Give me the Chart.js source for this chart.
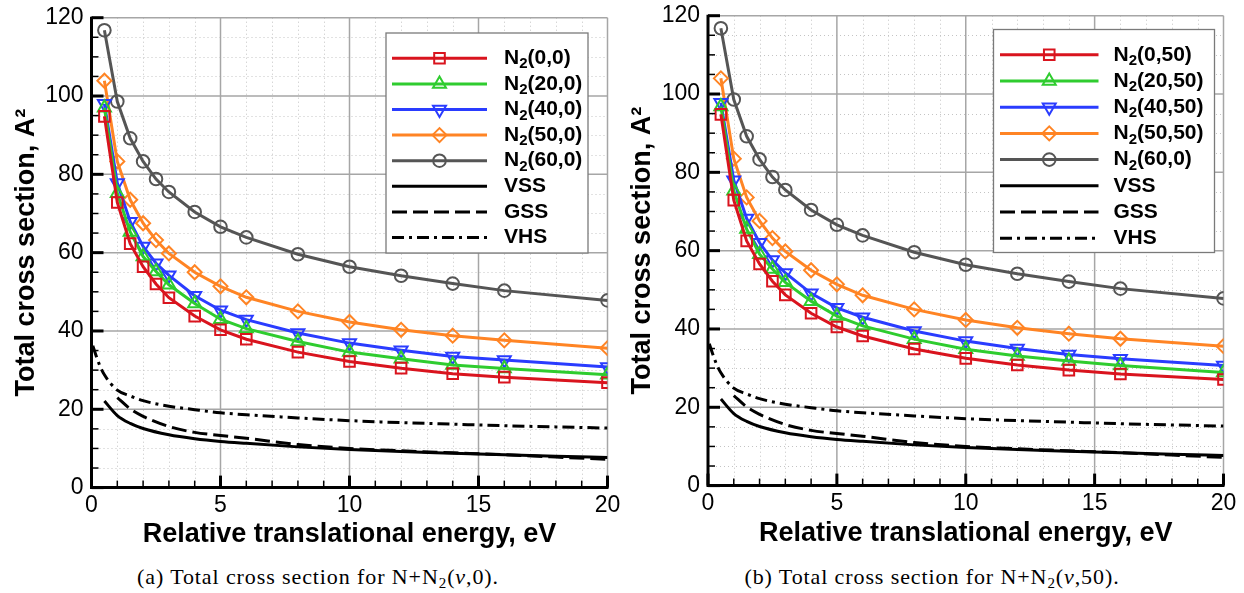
<!DOCTYPE html>
<html>
<head>
<meta charset="utf-8">
<script src="https://cdn.jsdelivr.net/npm/chart.js@4.4.1/dist/chart.umd.min.js"></script>
<style>
  html, body { margin: 0; padding: 0; background: #fff; }
  body { width: 1244px; height: 593px; position: relative; overflow: hidden; }
  canvas { position: absolute; top: 0; background: #fff; }
  #panelA { left: 0; }
  #panelB { left: 620px; }
  .cap {
    position: absolute; top: 564px;
    font-family: 'Liberation Serif', 'Times New Roman', serif;
    font-size: 22px; letter-spacing: 0.9px; white-space: nowrap;
    transform: translateX(-50%); color: #000; line-height: 26px;
  }
  .cap sub { font-size: 15px; vertical-align: -4px; line-height: 0; }
</style>
</head>
<body>
<canvas id="panelA" width="620" height="560"></canvas>
<canvas id="panelB" width="624" height="560"></canvas>
<div class="cap" style="left:318px">(a) Total cross section for N+N<sub>2</sub>(<i>v</i>,0).</div>
<div class="cap" style="left:932px">(b) Total cross section for N+N<sub>2</sub>(<i>v</i>,50).</div>

<script>
// Relative translational energy grid of the computed points, eV
const energy = [0.5, 1, 1.5, 2, 2.5, 3, 4, 5, 6, 8, 10, 12, 14, 16, 20];

// Total cross sections, A^2, for N + N2(v, j=0)
const n2_0_0  = [94.8, 72.8, 62.3, 56.4, 52.0, 48.5, 43.8, 40.3, 37.9, 34.6, 32.2, 30.5, 29.1, 28.2, 26.8];
const n2_20_0 = [97.0, 75.2, 65.3, 59.0, 55.2, 51.8, 47.0, 43.0, 40.6, 37.3, 34.6, 32.9, 31.3, 30.4, 28.8];
const n2_40_0 = [98.0, 77.8, 67.9, 61.6, 57.3, 54.2, 49.0, 45.3, 42.9, 39.5, 36.9, 35.1, 33.5, 32.6, 30.8];
const n2_50_0 = [103.9, 83.3, 73.5, 67.5, 63.2, 59.8, 55.0, 51.4, 48.6, 45.0, 42.3, 40.3, 38.8, 37.6, 35.6];
const n2_60_0 = [116.8, 98.6, 89.2, 83.3, 78.8, 75.5, 70.4, 66.6, 63.9, 59.6, 56.4, 54.1, 52.1, 50.3, 47.8];

// Total cross sections, A^2, for N + N2(v, j=50)
const n2_0_50  = [94.8, 72.9, 62.5, 56.6, 52.2, 48.7, 44.0, 40.5, 38.2, 34.9, 32.5, 30.8, 29.5, 28.5, 27.1];
const n2_20_50 = [96.8, 75.3, 65.5, 59.1, 55.3, 51.9, 47.1, 43.3, 40.8, 37.4, 34.8, 33.1, 31.8, 30.7, 28.9];
const n2_40_50 = [97.8, 78.0, 68.2, 62.0, 57.6, 54.3, 49.1, 45.4, 43.0, 39.5, 36.9, 35.0, 33.5, 32.4, 30.7];
const n2_50_50 = [104.0, 83.5, 73.6, 67.6, 63.2, 59.8, 55.0, 51.4, 48.6, 45.0, 42.3, 40.3, 38.8, 37.5, 35.6];

// Molecular models
const vssEnergy = [0.5, 1, 1.5, 2, 3, 4, 5, 6, 8, 10, 12, 14, 16, 18, 20];
const vssSigma  = [22.1, 18.4, 16.4, 15.1, 13.5, 12.5, 11.8, 11.3, 10.4, 9.7, 9.2, 8.8, 8.4, 8.0, 7.7];
const gssEnergy = [1, 1.5, 2, 3, 4, 5, 6, 8, 10, 12, 14, 16, 18, 20];
const gssSigma  = [23.0, 20.1, 18.2, 15.6, 14.1, 13.3, 12.6, 11.0, 10.0, 9.4, 8.9, 8.4, 7.8, 7.2];
const vhsEnergy = [0.05, 0.3, 0.5, 1, 1.5, 2, 3, 4, 5, 6, 8, 10, 12, 14, 16, 18, 20];
const vhsSigma  = [36.2, 31.5, 28.8, 24.9, 23.4, 22.2, 20.8, 19.9, 19.1, 18.6, 17.8, 17.1, 16.6, 16.2, 15.8, 15.5, 15.2];

// Axis ticks
const xTicks = [0, 5, 10, 15, 20];
const yTicks = [0, 20, 40, 60, 80, 100, 120];

const FONT = "'Liberation Sans', Arial, Helvetica, sans-serif";
const pts = (xs, ys) => xs.map((x, i) => ({ x: x, y: ys[i] }));

function marked(label, ys, color, style, radius, rotation) {
  return {
    label: label, data: pts(energy, ys),
    borderColor: color, borderWidth: 3, tension: 0,
    pointStyle: style, pointRadius: radius, pointRotation: rotation || 0,
    pointBorderColor: color, pointBorderWidth: 2,
    pointBackgroundColor: 'rgba(0,0,0,0)', pointHoverRadius: radius
  };
}
function model(label, xs, ys, dash) {
  return {
    label: label, data: pts(xs, ys),
    borderColor: '#000', borderWidth: 3, borderDash: dash, borderCapStyle: 'butt',
    pointRadius: 0, cubicInterpolationMode: 'monotone'
  };
}

// Grid, axes and inward tick marks
const framePlugin = {
  id: 'frame',
  beforeDatasetsDraw(chart) {
    const { ctx, chartArea: a, scales: { x, y } } = chart;
    ctx.save();
    ctx.lineWidth = 1;
    ctx.strokeStyle = '#c4c4c4';
    ctx.setLineDash([1, 3]);
    for (let v = 1; v < 20; v++) {
      if (v % 5 === 0) continue;
      const p = Math.round(x.getPixelForValue(v)) + 0.5;
      ctx.beginPath(); ctx.moveTo(p, a.top); ctx.lineTo(p, a.bottom); ctx.stroke();
    }
    for (let v = 5; v < 120; v += 5) {
      if (v % 20 === 0) continue;
      const p = Math.round(y.getPixelForValue(v)) + 0.5;
      ctx.beginPath(); ctx.moveTo(a.left, p); ctx.lineTo(a.right, p); ctx.stroke();
    }
    ctx.setLineDash([]);
    ctx.strokeStyle = '#a6a6a6';
    ctx.lineWidth = 1.5;
    xTicks.slice(1).forEach(v => {
      const p = x.getPixelForValue(v);
      ctx.beginPath(); ctx.moveTo(p, a.top); ctx.lineTo(p, a.bottom); ctx.stroke();
    });
    yTicks.slice(1).forEach(v => {
      const p = y.getPixelForValue(v);
      ctx.beginPath(); ctx.moveTo(a.left, p); ctx.lineTo(a.right, p); ctx.stroke();
    });
    ctx.restore();
  },
  afterDatasetsDraw(chart) {
    const { ctx, chartArea: a, scales: { x, y } } = chart;
    ctx.save();
    ctx.strokeStyle = '#000';
    // minor ticks
    ctx.lineWidth = 1.5;
    for (let v = 1; v < 20; v++) {
      if (v % 5 === 0) continue;
      const p = x.getPixelForValue(v);
      ctx.beginPath(); ctx.moveTo(p, a.bottom); ctx.lineTo(p, a.bottom - 7); ctx.stroke();
    }
    for (let v = 5; v < 120; v += 5) {
      if (v % 20 === 0) continue;
      const p = y.getPixelForValue(v);
      ctx.beginPath(); ctx.moveTo(a.left, p); ctx.lineTo(a.left + 7, p); ctx.stroke();
    }
    // major ticks
    ctx.lineWidth = 3;
    xTicks.forEach(v => {
      const p = x.getPixelForValue(v);
      ctx.beginPath(); ctx.moveTo(p, a.bottom); ctx.lineTo(p, a.bottom - 12); ctx.stroke();
    });
    yTicks.forEach(v => {
      const p = y.getPixelForValue(v);
      ctx.beginPath(); ctx.moveTo(a.left, p); ctx.lineTo(a.left + 12, p); ctx.stroke();
    });
    // axis lines
    ctx.lineWidth = 3;
    ctx.beginPath();
    ctx.moveTo(a.left, a.top - 1);
    ctx.lineTo(a.left, a.bottom);
    ctx.lineTo(a.right + 1, a.bottom);
    ctx.stroke();
    ctx.restore();
  }
};

// Boxed legend with line samples, hollow markers and subscripted labels
const boxLegendPlugin = {
  id: 'boxLegend',
  afterDraw(chart, args, o) {
    const ctx = chart.ctx;
    ctx.save();
    ctx.fillStyle = '#fff';
    ctx.fillRect(o.x, o.y, o.w, o.h);
    ctx.strokeStyle = '#7a7a7a';
    ctx.lineWidth = 1.3;
    ctx.strokeRect(o.x, o.y, o.w, o.h);
    chart.data.datasets.forEach((ds, i) => {
      const ry = o.y + o.first + i * o.step;
      ctx.strokeStyle = ds.borderColor;
      ctx.lineWidth = 3;
      ctx.lineCap = 'butt';
      ctx.setLineDash(ds.borderDash || []);
      ctx.beginPath(); ctx.moveTo(o.lineX0, ry); ctx.lineTo(o.lineX1, ry); ctx.stroke();
      ctx.setLineDash([]);
      if (ds.pointRadius > 0) {
        ctx.lineWidth = 2;
        ctx.fillStyle = 'rgba(0,0,0,0)';
        Chart.helpers.drawPoint(ctx, {
          pointStyle: ds.pointStyle, rotation: ds.pointRotation || 0,
          radius: ds.pointRadius, borderWidth: 2
        }, (o.lineX0 + o.lineX1) / 2, ry);
      }
      // label text, with a lowered subscript for the molecule
      ctx.fillStyle = '#000';
      ctx.textBaseline = 'middle';
      ctx.textAlign = 'left';
      let tx = o.textX;
      const parts = ds.label.split('\u2082');
      ctx.font = 'bold 21px ' + FONT;
      ctx.fillText(parts[0], tx, ry);
      tx += ctx.measureText(parts[0]).width;
      if (parts.length > 1) {
        ctx.font = 'bold 15px ' + FONT;
        ctx.fillText('2', tx, ry + 6);
        tx += ctx.measureText('2').width;
        ctx.font = 'bold 21px ' + FONT;
        ctx.fillText(parts[1], tx, ry);
      }
    });
    ctx.restore();
  }
};

function makeChart(id, sets, geom) {
  return new Chart(document.getElementById(id), {
    type: 'line',
    data: { datasets: sets },
    plugins: [framePlugin, boxLegendPlugin],
    options: {
      responsive: false, animation: false,
      events: [],
      layout: { padding: { left: 0, top: geom.top, right: geom.right, bottom: 0 } },
      plugins: {
        legend: { display: false },
        tooltip: { enabled: false },
        boxLegend: geom.legend
      },
      scales: {
        x: {
          type: 'linear', min: 0, max: 20,
          afterBuildTicks: s => { s.ticks = xTicks.map(v => ({ value: v })); },
          ticks: { color: '#000', font: { family: FONT, size: 23 }, padding: 4, maxRotation: 0 },
          grid: { display: false, drawTicks: false },
          border: { display: false },
          title: {
            display: true, text: 'Relative translational energy, eV', color: '#000',
            font: { family: FONT, size: 27, weight: 'bold' },
            padding: { top: 0, bottom: geom.xTitlePad }
          },
          afterFit: s => { s.height = geom.xHeight; s.paddingLeft = 0; s.paddingRight = 0; }
        },
        y: {
          type: 'linear', min: 0, max: 120,
          afterBuildTicks: s => { s.ticks = yTicks.map(v => ({ value: v })); },
          ticks: { color: '#000', font: { family: FONT, size: 23 }, padding: 8 },
          grid: { display: false, drawTicks: false },
          border: { display: false },
          title: {
            display: true, text: 'Total cross section, A\u00B2', color: '#000',
            font: { family: FONT, size: 27, weight: 'bold' },
            padding: { top: geom.yTitlePad, bottom: 0 }
          },
          afterFit: s => { s.width = geom.yWidth; s.paddingTop = 0; s.paddingBottom = 0; }
        }
      }
    }
  });
}

const RED = '#d9141e', GREEN = '#2fcc2f', BLUE = '#2a3cff', ORANGE = '#ff8424', GRAY = '#555555';
const DASH = [15, 6], DASHDOT = [12, 5, 3, 5];

makeChart('panelA', [
  marked('N\u2082(0,0)', n2_0_0, RED, 'rect', 7.5),
  marked('N\u2082(20,0)', n2_20_0, GREEN, 'triangle', 7.5),
  marked('N\u2082(40,0)', n2_40_0, BLUE, 'triangle', 7.5, 180),
  marked('N\u2082(50,0)', n2_50_0, ORANGE, 'rectRot', 7),
  marked('N\u2082(60,0)', n2_60_0, GRAY, 'circle', 6.3),
  model('VSS', vssEnergy, vssSigma, []),
  model('GSS', gssEnergy, gssSigma, DASH),
  model('VHS', vhsEnergy, vhsSigma, DASHDOT)
], {
  top: 17.7, right: 12.5, yWidth: 91.5, xHeight: 72.4, xTitlePad: 8.8, yTitlePad: 10.8,
  legend: { x: 386, y: 33, w: 202, h: 220, first: 25.3, step: 25.6,
            lineX0: 392, lineX1: 487, textX: 504 }
});

makeChart('panelB', [
  marked('N\u2082(0,50)', n2_0_50, RED, 'rect', 7.5),
  marked('N\u2082(20,50)', n2_20_50, GREEN, 'triangle', 7.5),
  marked('N\u2082(40,50)', n2_40_50, BLUE, 'triangle', 7.5, 180),
  marked('N\u2082(50,50)', n2_50_50, ORANGE, 'rectRot', 7),
  marked('N\u2082(60,0)', n2_60_0, GRAY, 'circle', 6.3),
  model('VSS', vssEnergy, vssSigma, []),
  model('GSS', gssEnergy, gssSigma, DASH),
  model('VHS', vhsEnergy, vhsSigma, DASHDOT)
], {
  top: 15.7, right: 20.5, yWidth: 88, xHeight: 74.4, xTitlePad: 9.8, yTitlePad: 6.8,
  legend: { x: 373.5, y: 29.5, w: 221, h: 223, first: 25.3, step: 26.2,
            lineX0: 380, lineX1: 478.5, textX: 493.5 }
});
</script>
</body>
</html>
